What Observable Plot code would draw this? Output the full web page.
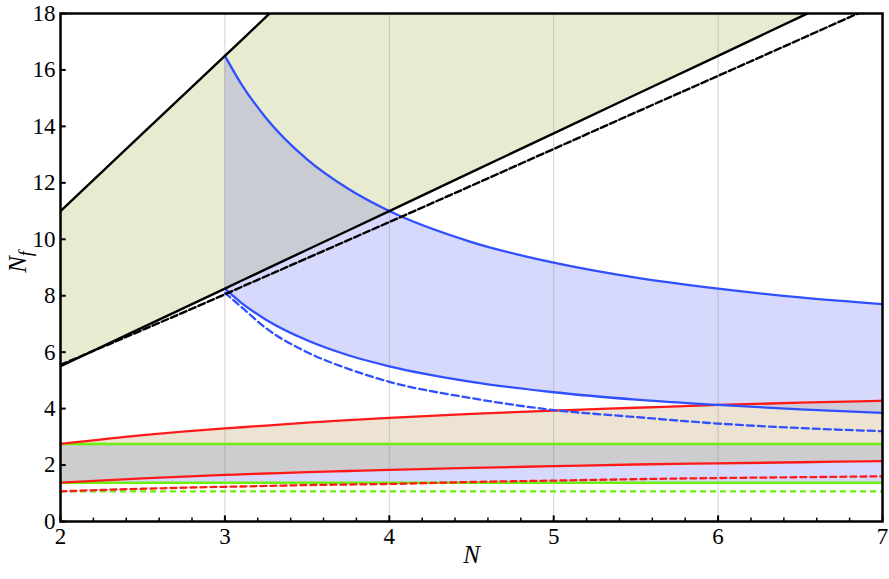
<!DOCTYPE html>
<html><head><meta charset="utf-8">
<script src="https://cdn.jsdelivr.net/npm/d3@7"></script>
<script src="https://cdn.jsdelivr.net/npm/@observablehq/plot@0.6"></script>
<style>
body{margin:0;background:#fff;}
svg, svg text { font-family: "Liberation Serif", "Times New Roman", Times, "DejaVu Serif", serif !important; }
</style>
</head><body><div id="chart"></div>
<script>
// ---- data ----
const N          = [2, 2.5, 3, 3.1, 3.25, 3.5, 3.75, 4, 4.5, 5, 5.5, 6, 6.5, 7];
const afUpper    = [11, 13.75, 16.5, 17.05, 17.88, 19.25, 20.63, 22, 24.75, 27.5, 30.25, 33, 35.75, 38.5];
const afLower    = [5.5, 6.88, 8.25, 8.53, 8.94, 9.63, 10.31, 11, 12.38, 13.75, 15.13, 16.5, 17.88, 19.25];
const afDashed   = [5.55, 6.79, 8.05, 8.31, 8.69, 9.33, 9.97, 10.61, 11.9, 13.2, 14.5, 15.79, 17.09, 18.39];
const blueUpper  = [null, null, 16.5, 15.5, 14.3, 12.83, 11.79, 11, 9.9, 9.17, 8.64, 8.25, 7.94, 7.7];
const blueLower  = [null, null, 8.25, 7.75, 7.15, 6.42, 5.89, 5.5, 4.95, 4.58, 4.32, 4.13, 3.97, 3.85];
const blueDashed = [null, null, 8.1, 7.6, 6.85, 6.0, 5.41, 4.95, 4.37, 3.95, 3.7, 3.47, 3.31, 3.2];
const redUpper   = [2.75, 3.06, 3.3, 3.34, 3.4, 3.5, 3.59, 3.67, 3.81, 3.93, 4.03, 4.13, 4.21, 4.28];
const redLower   = [1.375, 1.53, 1.65, 1.67, 1.7, 1.75, 1.79, 1.83, 1.9, 1.96, 2.02, 2.06, 2.1, 2.14];
const redDashed  = [1.07, 1.16, 1.23, 1.24, 1.26, 1.29, 1.31, 1.33, 1.4, 1.45, 1.5, 1.54, 1.57, 1.6];
const greenUpper = 2.75;
const greenLower = 1.375;
const greenDashed = 1.07;
const xTicks = [2, 3, 4, 5, 6, 7];
const xMinorTicks = [2.2,2.4,2.6,2.8,3.2,3.4,3.6,3.8,4.2,4.4,4.6,4.8,5.2,5.4,5.6,5.8,6.2,6.4,6.6,6.8];
const yTicks = [0, 2, 4, 6, 8, 10, 12, 14, 16, 18];
const gridX = [3, 4, 5, 6];

// ---- styling ----
const FONT = '"Liberation Serif", "Times New Roman", Times, "DejaVu Serif", serif';
const OLIVE = "#e9ebd1", LAV = "#d6d9fc", PEACH = "#ede3d3";
const GREY_TOP = "#c9ccd3", GREY_BOT = "#cdcdcf", GREY_SIDE = "#cfccd8";
const BLUE = "#3050ff", RED = "#ff1a1a", GREEN = "#6cf010";
const curve = "monotone-x";

const rows = N.map((n, i) => ({
  n, afU: afUpper[i], afL: afLower[i], afD: afDashed[i],
  bU: blueUpper[i], bL: blueLower[i], bD: blueDashed[i],
  rU: redUpper[i], rL: redLower[i], rD: redDashed[i]
}));
const blueRows = rows.filter(d => d.bU != null);

function overlap(data, lo1, hi1, lo2, hi2) {
  return data.map(d => ({n: d.n, y1: Math.max(lo1(d), lo2(d)), y2: Math.min(hi1(d), hi2(d))}))
             .filter(d => d.y2 >= d.y1 - 1e-9);
}
const ovTop = overlap(blueRows, d => d.afL, d => d.afU, d => d.bL, d => d.bU);
const ovBot = overlap(rows, d => d.rL, d => d.rU, d => greenLower, d => greenUpper);
const ovSide = overlap(blueRows, d => d.rL, d => d.rU, d => d.bL, d => d.bU);

const svg = Plot.plot({
  width: 889, height: 579,
  marginLeft: 60, marginRight: 7, marginTop: 13, marginBottom: 58,
  x: {domain: [2, 7]},
  y: {domain: [0, 18]},
  style: {fontFamily: FONT, fontSize: "23px", background: "#fff", color: "#000"},
  marks: [
    // fills
    Plot.areaY(rows, {x: "n", y1: "afL", y2: "afU", fill: OLIVE, curve, clip: true}),
    Plot.areaY(blueRows, {x: "n", y1: "bL", y2: "bU", fill: LAV, curve, clip: true}),
    Plot.areaY(rows, {x: "n", y1: "rL", y2: "rU", fill: PEACH, curve}),
    Plot.areaY(rows, {x: "n", y1: () => greenLower, y2: () => greenUpper, fill: LAV}),
    Plot.areaY(ovTop, {x: "n", y1: "y1", y2: "y2", fill: GREY_TOP, curve}),
    Plot.areaY(ovBot, {x: "n", y1: "y1", y2: "y2", fill: GREY_BOT, curve}),
    Plot.areaY(ovSide, {x: "n", y1: "y1", y2: "y2", fill: GREY_SIDE, curve}),
    // grid
    Plot.ruleX(gridX, {stroke: "#8a8a8a", strokeOpacity: 0.4, strokeWidth: 1}),
    // green lines
    Plot.ruleY([greenUpper, greenLower], {stroke: GREEN, strokeWidth: 2.5}),
    Plot.ruleY([greenDashed], {stroke: GREEN, strokeWidth: 2.2, strokeDasharray: "6,4"}),
    // red lines
    Plot.line(rows, {x: "n", y: "rU", stroke: RED, strokeWidth: 2.3, curve}),
    Plot.line(rows, {x: "n", y: "rL", stroke: RED, strokeWidth: 2.3, curve}),
    Plot.line(rows, {x: "n", y: "rD", stroke: RED, strokeWidth: 2.3, strokeDasharray: "6,4", curve}),
    // blue lines
    Plot.line(blueRows, {x: "n", y: "bU", stroke: BLUE, strokeWidth: 2.3, curve}),
    Plot.line(blueRows, {x: "n", y: "bL", stroke: BLUE, strokeWidth: 2.3, curve}),
    Plot.line(blueRows, {x: "n", y: "bD", stroke: BLUE, strokeWidth: 2.3, strokeDasharray: "7,4", curve}),
    // black lines
    Plot.line(rows, {x: "n", y: "afU", stroke: "#000", strokeWidth: 2.4, clip: true}),
    Plot.line(rows, {x: "n", y: "afL", stroke: "#000", strokeWidth: 2.4, clip: true}),
    Plot.line(rows, {x: "n", y: "afD", stroke: "#000", strokeWidth: 2.4, strokeDasharray: "7,3", curve, clip: true}),
    // ticks (inward)
    Plot.ruleX(xTicks, {y1: 0, y2: 0.2, stroke: "#000", strokeWidth: 2}),
    Plot.ruleX(xMinorTicks, {y1: 0, y2: 0.12, stroke: "#000", strokeWidth: 1.5}),
    Plot.ruleY(yTicks, {x1: 2, x2: 2.035, stroke: "#000", strokeWidth: 2}),
    Plot.frame({stroke: "#000", strokeWidth: 2.5}),
    Plot.axisX({ticks: xTicks, tickSize: 0, tickPadding: 6, label: null, tickFormat: d => String(d)}),
    Plot.axisY({ticks: yTicks, tickSize: 0, tickPadding: 5, label: null, tickFormat: d => String(d)}),
    Plot.text(["N"], {frameAnchor: "bottom", dy: 41, text: d => d, fontStyle: "italic", fontSize: 25})
  ]
});

const yl = d3.select(svg).append("text")
  .attr("transform", "translate(26,262) rotate(-90)")
  .attr("text-anchor", "middle")
  .style("font-family", FONT)
  .attr("font-size", 25)
  .attr("font-style", "italic")
  .attr("fill", "#000");
yl.append("tspan").text("N");
yl.append("tspan").attr("font-size", 18).attr("dy", 6).text("f");

document.getElementById("chart").appendChild(svg);
</script>
</body></html>
